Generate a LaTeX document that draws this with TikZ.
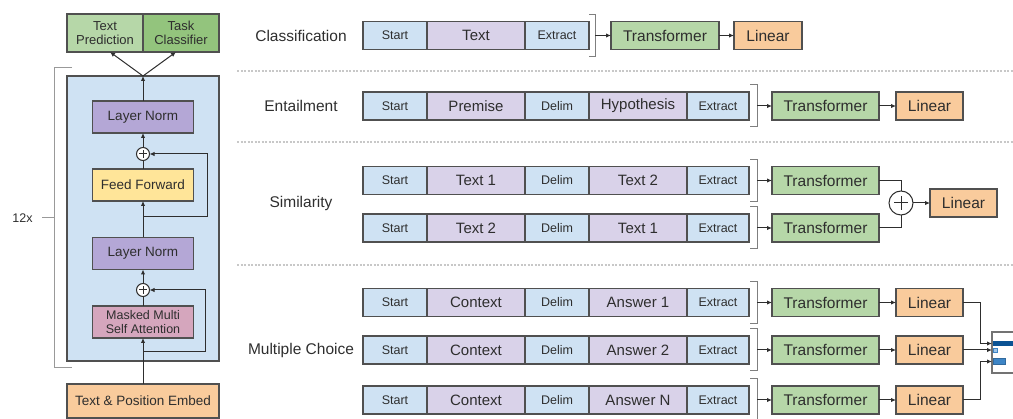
\documentclass[tikz,border=0pt]{standalone}
\usepackage{fontspec}
\setmainfont{Liberation Sans}
\usetikzlibrary{arrows.meta,calc}
\definecolor{seqblue}{HTML}{CFE2F3}
\definecolor{seqpurple}{HTML}{D9D2E9}
\definecolor{trgreen}{HTML}{B6D7A8}
\definecolor{dkgreen}{HTML}{93C47D}
\definecolor{linorange}{HTML}{F9CB9C}
\definecolor{normpurple}{HTML}{B4A7D6}
\definecolor{ffyellow}{HTML}{FFE599}
\definecolor{attnpink}{HTML}{D5A6BD}
\definecolor{edge}{HTML}{505050}
\definecolor{ink}{HTML}{2E2E2E}
\definecolor{brk}{HTML}{7F7F7F}
\definecolor{sepgray}{HTML}{C8C8C8}
\definecolor{barnavy}{HTML}{0B5394}
\definecolor{barblue}{HTML}{3D85C6}
\definecolor{barlight}{HTML}{9FC5E8}
\begin{document}
\begin{tikzpicture}[x=1pt,y=-1pt,
  box/.style={draw=edge, line width=1.1pt, inner sep=0pt, outer sep=0pt, text=ink, align=center},
  tok/.style={box, fill=seqblue, minimum height=28pt, minimum width=64pt, font=\fontsize{12.5}{13}\selectfont, anchor=west},
  seg/.style={box, fill=seqpurple, minimum height=28pt, minimum width=98pt, font=\fontsize{15}{16}\selectfont, anchor=west},
  tfm/.style={box, fill=trgreen, minimum height=28pt, minimum width=107pt, font=\fontsize{15.5}{16}\selectfont, anchor=west},
  lin/.style={box, fill=linorange, minimum height=28pt, minimum width=67pt, font=\fontsize{15.5}{16}\selectfont, anchor=west},
  layer/.style={box, minimum width=101pt, minimum height=32pt, font=\fontsize{13.5}{14}\selectfont},
  task/.style={text=ink, font=\fontsize{15.5}{16}\selectfont},
  arr/.style={draw=ink, line width=1pt, -{Latex[length=5pt,width=4.5pt]}},
  wire/.style={draw=ink, line width=1pt},
  brkline/.style={draw=brk, line width=1pt},
  sumnode/.style={circle, draw=ink, line width=1pt, fill=white, inner sep=0pt, outer sep=0pt,
    path picture={\draw[ink, line width=1pt]
      ([yshift=0.55*#1]path picture bounding box.center) -- ([yshift=-0.55*#1]path picture bounding box.center)
      ([xshift=0.55*#1]path picture bounding box.center) -- ([xshift=-0.55*#1]path picture bounding box.center);}},
  sep/.style={draw=sepgray, line width=1.2pt, dash pattern=on 2pt off 1.5pt}
]
\useasboundingbox (0,0) rectangle (1013,419);
\clip (0,0) rectangle (1013,419);

% ---------------- decoder stack ----------------
\node[box, fill=seqblue, minimum width=152pt, minimum height=285pt, anchor=north west] (stack) at (67,76) {};
\node[box, fill=trgreen, minimum width=76pt, minimum height=38pt, anchor=north west,
      font=\fontsize{13}{14}\selectfont] (pred) at (67,14) {Text\\Prediction};
\node[box, fill=dkgreen, minimum width=76pt, minimum height=38pt, anchor=north west,
      font=\fontsize{13}{14}\selectfont] (cls) at (143,14) {Task\\Classifier};
\node[layer, fill=normpurple] (ln2) at (143,117) {Layer Norm};
\node[sumnode=6.5pt, minimum size=13pt] (add2) at (143,154) {};
\node[layer, fill=ffyellow] (ff) at (143,185) {Feed Forward};
\node[layer, fill=normpurple] (ln1) at (143,253.5) {Layer Norm};
\node[sumnode=6.5pt, minimum size=13pt] (add1) at (143,290) {};
\node[layer, fill=attnpink, font=\fontsize{12.5}{13.5}\selectfont] (attn) at (143,322) {Masked Multi\\Self Attention};
\node[box, fill=linorange, minimum width=152pt, minimum height=34pt, anchor=north west,
      font=\fontsize{13.5}{14}\selectfont] (embed) at (67,384) {Text \& Position Embed};

\coordinate (top) at (stack.north);
\coordinate (res1) at (143,352);
\coordinate (res2) at (143,217);
\draw[arr] (embed.north) -- (attn.south);
\draw[wire] (attn.north) -- (add1.south);
\draw[arr] (add1.north) -- (ln1.south);
\draw[arr] (ln1.north) -- (ff.south);
\draw[wire] (ff.north) -- (add2.south);
\draw[arr] (add2.north) -- (ln2.south);
\draw[arr] (ln2.north) -- (top);
\draw[arr] (res1) -- ++(62,0) |- (add1.east);
\draw[arr] (res2) -- ++(64,0) |- (add2.east);
\draw[arr] (top) -- (pred.south -| 110,0);
\draw[arr] (top) -- (cls.south -| 176,0);

% repeat bracket
\draw[draw=brk!80, line width=1pt] (72,68) -- (54,68) -- (54,368) -- (72,368);
\coordinate (rep) at (54,218);
\draw[draw=brk!80, line width=1pt] (rep) -- ++(-12,0);
\node[text=ink, font=\fontsize{12.5}{13}\selectfont] (reps) at (22.5,218) {12x};

% ---------------- separators ----------------
\draw[sep] (237,71) -- (1013,71);
\draw[sep] (237,142) -- (1013,142);
\draw[sep] (237,265) -- (1013,265);

% ---------------- classification ----------------
\node[task] (tc) at (301,35.5) {Classification};
\node[tok] (c1) at (363,35.5) {Start};
\node[seg] (c2) at (c1.east) {Text};
\node[tok] (c3) at (c2.east) {Extract};
\draw[brkline] ($(c3.north east)+(0,-7)$) -| ($(c3.south east)+(6,7)$) -- ($(c3.south east)+(0,7)$);
\coordinate (cb) at ($(c3.east)+(6,0)$);
\node[tfm, minimum width=108pt] (ct) at (611,35.5) {Transformer};
\node[lin, minimum width=68pt] (cl) at (734,35.5) {Linear};
\draw[arr] (cb) -- (ct.west);
\draw[arr] (ct.east) -- (cl.west);

% ---------------- entailment ----------------
\node[task] (te) at (301,106) {Entailment};
\node[tok] (e1) at (363,106) {Start};
\node[seg] (e2) at (e1.east) {Premise};
\node[tok] (e3) at (e2.east) {Delim};
\node[seg] (e4) at (e3.east) {Hypothesis};
\node[tok, minimum width=62pt] (e5) at (e4.east) {Extract};
\draw[brkline] ($(e5.north east)+(1,-7)$) -| ($(e5.south east)+(8,7)$) -- ($(e5.south east)+(1,7)$);
\coordinate (eb) at ($(e5.east)+(8,0)$);
\node[tfm] (et) at (772,106) {Transformer};
\node[lin] (el) at (896,106) {Linear};
\draw[arr] (eb) -- (et.west);
\draw[arr] (et.east) -- (el.west);

% ---------------- similarity ----------------
\node[task] (ts) at (301,203) {Similarity};
\node[tok] (sa1) at (363,180.5) {Start};
\node[seg] (sa2) at (sa1.east) {Text 1};
\node[tok] (sa3) at (sa2.east) {Delim};
\node[seg] (sa4) at (sa3.east) {Text 2};
\node[tok, minimum width=62pt] (sa5) at (sa4.east) {Extract};
\node[tok] (sb1) at (363,228) {Start};
\node[seg] (sb2) at (sb1.east) {Text 2};
\node[tok] (sb3) at (sb2.east) {Delim};
\node[seg] (sb4) at (sb3.east) {Text 1};
\node[tok, minimum width=62pt] (sb5) at (sb4.east) {Extract};
\draw[brkline] ($(sa5.north east)+(1,-7)$) -| ($(sa5.south east)+(8,7)$) -- ($(sa5.south east)+(1,7)$);
\draw[brkline] ($(sb5.north east)+(1,-7)$) -| ($(sb5.south east)+(8,7)$) -- ($(sb5.south east)+(1,7)$);
\coordinate (sab) at ($(sa5.east)+(8,0)$);
\coordinate (sbb) at ($(sb5.east)+(8,0)$);
\node[tfm] (sat) at (772,180.5) {Transformer};
\node[tfm] (sbt) at (772,228) {Transformer};
\node[sumnode=12pt, minimum size=24pt] (ssum) at (901,203) {};
\node[lin] (sl) at (930,203) {Linear};
\draw[arr] (sab) -- (sat.west);
\draw[arr] (sbb) -- (sbt.west);
\draw[wire] (sat.east) -| (ssum.north);
\draw[wire] (sbt.east) -| (ssum.south);
\draw[arr] (ssum.east) -- (sl.west);

% ---------------- multiple choice ----------------
\node[task] (tm) at (301,350) {Multiple Choice};
\foreach \r/\yy/\ans in {a/302.5/Answer 1, b/350/Answer 2, c/400/Answer N}{
  \node[tok] (m\r1) at (363,\yy) {Start};
  \node[seg] (m\r2) at (m\r1.east) {Context};
  \node[tok] (m\r3) at (m\r2.east) {Delim};
  \node[seg] (m\r4) at (m\r3.east) {\ans};
  \node[tok, minimum width=62pt] (m\r5) at (m\r4.east) {Extract};
  \draw[brkline] ($(m\r5.north east)+(1,-7)$) -| ($(m\r5.south east)+(8,7)$) -- ($(m\r5.south east)+(1,7)$);
  \coordinate (m\r b) at ($(m\r5.east)+(8,0)$);
  \node[tfm] (m\r t) at (772,\yy) {Transformer};
  \node[lin] (m\r l) at (896,\yy) {Linear};
  \draw[arr] (m\r b) -- (m\r t.west);
  \draw[arr] (m\r t.east) -- (m\r l.west);
}

% softmax over the choices
\node[box, draw=edge!80, fill=white, minimum width=30pt, minimum height=41pt, anchor=north west] (soft) at (992,332) {};
\fill[barnavy] (993,341) rectangle (1013,346.5);
\draw[barblue, fill=barlight, line width=0.8pt] (993.5,348.5) rectangle (997,352);
\draw[barblue!80!black, fill=barblue, line width=0.6pt] (993.5,358.5) rectangle (1005,364);
\coordinate (in1) at (992,343.5);
\coordinate (in2) at (992,350);
\coordinate (in3) at (992,361.5);
\draw[arr] (mal.east) -- ++(17,0) |- (in1);
\draw[arr] (mbl.east) -- (in2);
\draw[arr] (mcl.east) -- ++(17,0) |- (in3);
\end{tikzpicture}
\end{document}
